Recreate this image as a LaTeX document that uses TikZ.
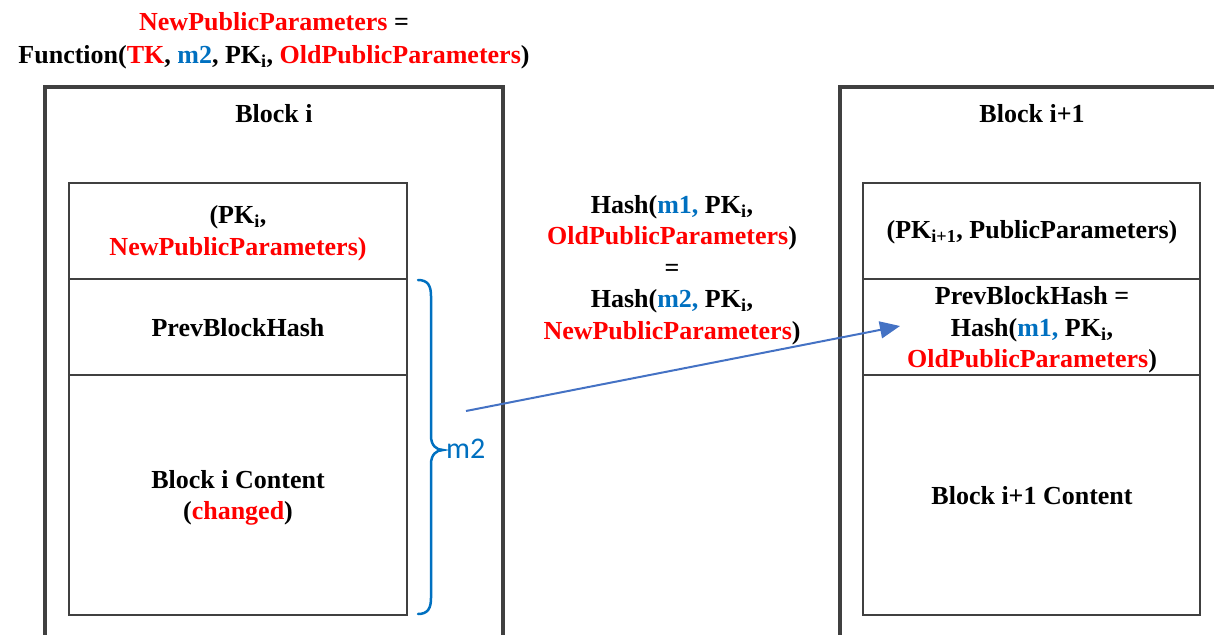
\documentclass[tikz,border=0pt]{standalone}
\usepackage{fontspec}
\setmainfont{Liberation Serif}
\newfontfamily\labelfont{Carlito}
\usetikzlibrary{arrows.meta}
\definecolor{framegray}{HTML}{404040}
\definecolor{keyred}{HTML}{FF0000}
\definecolor{msgblue}{HTML}{0070C0}
\definecolor{arrowblue}{HTML}{4472C4}
\newcommand{\rd}[1]{\textcolor{keyred}{#1}}
\newcommand{\bl}[1]{\textcolor{msgblue}{#1}}
\newcommand{\sbs}[1]{\textsubscript{#1}}
\begin{document}
\begin{tikzpicture}[x=1pt,y=-1pt,
  outerbox/.style={draw=framegray,line width=3.5pt},
  innerbox/.style={draw=framegray,line width=2.5pt},
  txt/.style={font=\fontsize{26}{31.5}\selectfont\bfseries,align=center,inner sep=0pt}]
\useasboundingbox (0,0) rectangle (1214,634);

% outer block frames (they run off the bottom and right edges)
\draw[outerbox] (45,660) -- (45,87) -- (503,87) -- (503,660);
\draw[outerbox] (840,660) -- (840,87) -- (1240,87);

% inner field stacks
\draw[innerbox] (69,183) rectangle (407,615);
\draw[innerbox] (69,279) -- (407,279);
\draw[innerbox] (69,375) -- (407,375);
\draw[innerbox] (863,183) rectangle (1200,615);
\draw[innerbox] (863,279) -- (1200,279);
\draw[innerbox] (863,375) -- (1200,375);

% formula above block i
\node[txt,font=\fontsize{26}{33}\selectfont\bfseries] (formula) at (274,41) {\rd{NewPublicParameters} =\\
  Function(\rd{TK}, \bl{m2}, PK\sbs{i}, \rd{OldPublicParameters})};

% block titles
\node[txt] (titleA) at (274,114) {Block i};
\node[txt] (titleB) at (1032,114) {Block i+1};

% block i fields
\node[txt] (keyA) at (238,233) {(PK\sbs{i},\\ \rd{NewPublicParameters)}};
\node[txt] (prevA) at (238,328) {PrevBlockHash};
\node[txt] (contA) at (238,498) {Block i Content\\ (\rd{changed})};

% block i+1 fields
\node[txt] (keyB) at (1032,232) {(PK\sbs{i+1}, PublicParameters)};
\node[txt] (prevB) at (1032,330) {PrevBlockHash =\\ Hash(\bl{m1,} PK\sbs{i},\\ \rd{OldPublicParameters})};
\node[txt] (contB) at (1032,496) {Block i+1 Content};

% collision equation between the blocks
\node[txt] (collision) at (672,270) {Hash(\bl{m1,} PK\sbs{i},\\ \rd{OldPublicParameters})\\ =\\
  Hash(\bl{m2,} PK\sbs{i},\\ \rd{NewPublicParameters})};

% brace over the hashed part of block i
\draw[msgblue,line width=2.5pt,line cap=round]
  (418,280) .. controls (428,280) and (431,286) .. (431,296)
  -- (431,436) .. controls (431,445) and (436,450) .. (443,450)
  .. controls (436,450) and (431,455) .. (431,464)
  -- (431,598) .. controls (431,608) and (428,614) .. (418,614);
\node[font=\labelfont\fontsize{30}{32}\selectfont,text=msgblue,anchor=west,inner sep=0pt] (mlabel) at (446,449) {m2};

% pointer from block i to the next block's hash field
\coordinate (from) at (466,411);
\coordinate (to) at (900,326);
\draw[arrowblue,line width=2pt,-{Triangle[length=20pt,width=17pt]}] (from) -- (to);
\end{tikzpicture}
\end{document}
